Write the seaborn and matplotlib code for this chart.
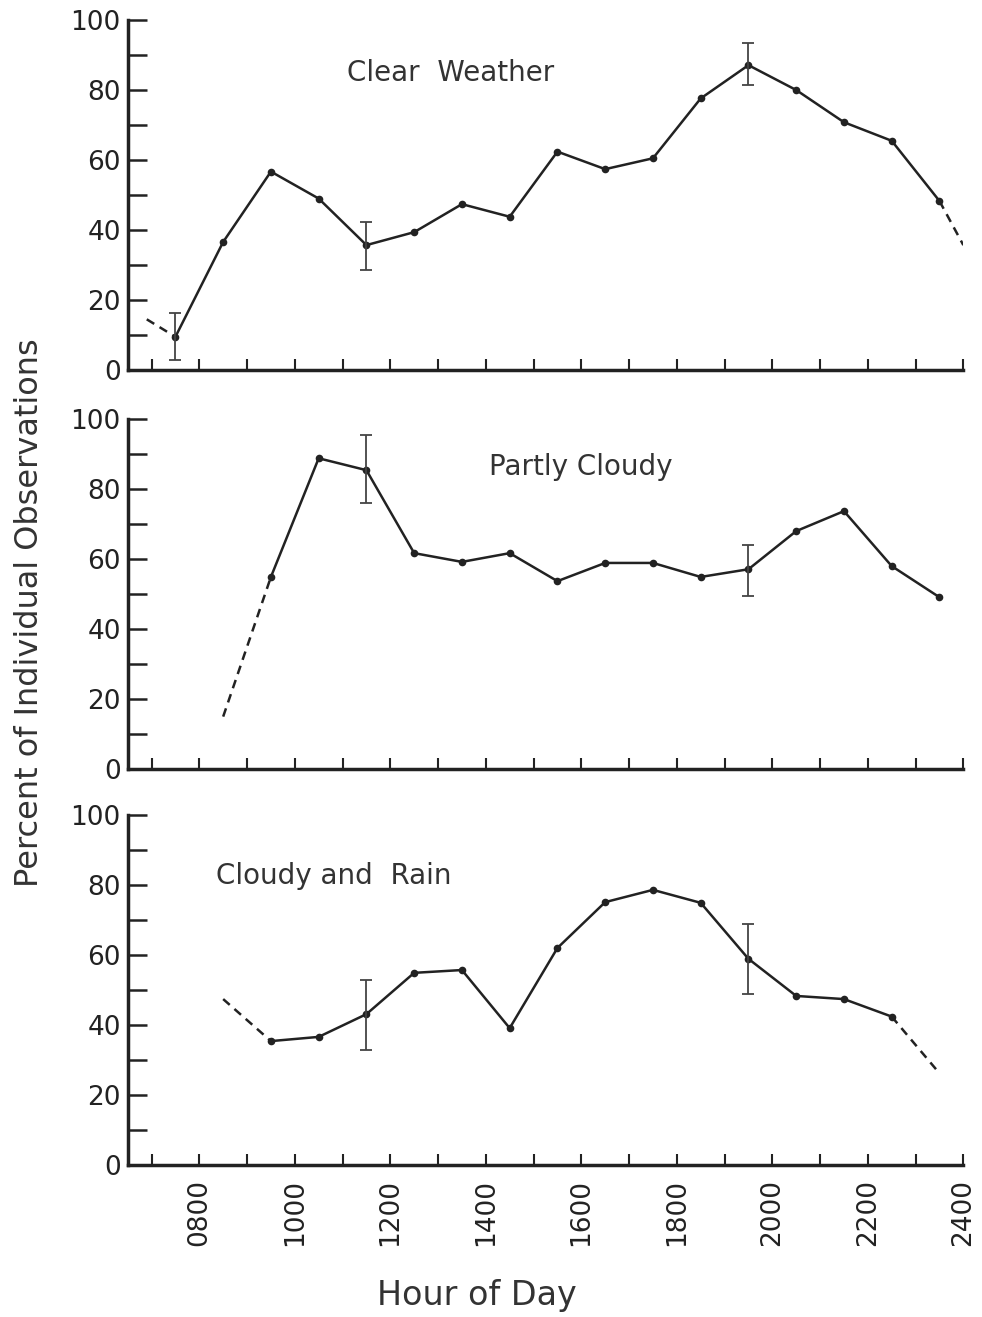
import numpy as np
import pandas as pd
import seaborn as sns
import matplotlib.pyplot as plt

# horas (meio da hora) em que cada ponto foi observado
hours = [7.5, 8.5, 9.5, 10.5, 11.5, 12.5, 13.5, 14.5, 15.5, 16.5,
         17.5, 18.5, 19.5, 20.5, 21.5, 22.5, 23.5]

nan = np.nan
clear = [9.5, 36.6, 56.7, 49.0, 35.7, 39.4, 47.4, 43.8, 62.4, 57.4,
         60.5, 77.6, 87.1, 80.0, 70.8, 65.5, 48.3]
partly = [nan, nan, 54.9, 88.8, 85.4, 61.7, 59.2, 61.7, 53.7, 58.9,
          58.9, 54.9, 57.1, 68.0, 73.7, 58.0, 49.1]
cloudy = [nan, nan, 35.4, 36.6, 43.1, 54.9, 55.7, 39.1, 62.0, 75.1,
          78.6, 74.9, 58.9, 48.3, 47.4, 42.4, nan]

# trechos tracejados (extrapolacao)
clear_dash_x = [[6.9, 7.5], [23.5, 24.0]]
clear_dash_y = [[14.5, 9.5], [48.3, 35.7]]
partly_dash_x = [[8.5, 9.5]]
partly_dash_y = [[15.0, 54.9]]
cloudy_dash_x = [[8.5, 9.5], [22.5, 23.5]]
cloudy_dash_y = [[47.4, 35.4], [42.4, 26.2]]

# barras de erro: hora, limite inferior, limite superior
clear_err_x = [7.5, 11.5, 19.5]
clear_err_lo = [2.9, 28.6, 81.4]
clear_err_hi = [16.3, 42.3, 93.4]
partly_err_x = [11.5, 19.5]
partly_err_lo = [76.0, 49.4]
partly_err_hi = [95.4, 64.0]
cloudy_err_x = [11.5, 19.5]
cloudy_err_lo = [32.9, 48.9]
cloudy_err_hi = [52.9, 68.9]

titles = ["Clear  Weather", "Partly Cloudy", "Cloudy and  Rain"]
title_pos = [(13.27, 85), (15.98, 86.3), (10.82, 82.6)]

tick_hours = [8, 10, 12, 14, 16, 18, 20, 22, 24]
tick_labels = ["0800", "1000", "1200", "1400", "1600", "1800", "2000", "2200", "2400"]

sns.set_theme(style="ticks")
plt.rcParams["font.family"] = ["DejaVu Sans"]
ink = "#222222"
txt = "#333333"

fig = plt.figure(figsize=(9.82, 13.17), dpi=100)
boxes = [[0.130, 0.719, 0.851, 0.2658],
         [0.130, 0.416, 0.851, 0.2658],
         [0.130, 0.1154, 0.851, 0.2658]]

panels = [
    (clear, clear_dash_x, clear_dash_y, clear_err_x, clear_err_lo, clear_err_hi),
    (partly, partly_dash_x, partly_dash_y, partly_err_x, partly_err_lo, partly_err_hi),
    (cloudy, cloudy_dash_x, cloudy_dash_y, cloudy_err_x, cloudy_err_lo, cloudy_err_hi),
]

for i, (vals, dx, dy, ex, elo, ehi) in enumerate(panels):
    ax = fig.add_axes(boxes[i])
    df = pd.DataFrame({"hour": hours, "pct": vals}).dropna()
    sns.lineplot(data=df, x="hour", y="pct", ax=ax, color=ink, linewidth=1.8,
                 marker="o", markersize=5.5, markeredgewidth=0)
    for xs, ys in zip(dx, dy):
        sns.lineplot(x=xs, y=ys, ax=ax, color=ink, linewidth=1.8,
                     linestyle=(0, (3.5, 2.5)))
    ex = np.array(ex)
    mid = (np.array(elo) + np.array(ehi)) / 2
    half = (np.array(ehi) - np.array(elo)) / 2
    ax.errorbar(ex, mid, yerr=half, fmt="none", ecolor="#444444",
                elinewidth=1.3, capsize=4, capthick=1.3)

    ax.text(title_pos[i][0], title_pos[i][1], titles[i], ha="center", va="center",
            fontsize=20, color=txt)

    ax.set_xlim(6.5, 24)
    ax.set_ylim(0, 100)
    ax.set_xticks(range(7, 25))
    ax.set_yticks([0, 20, 40, 60, 80, 100])
    ax.set_yticks([10, 30, 50, 70, 90], minor=True)
    ax.tick_params(axis="y", direction="in", length=14, width=1.8,
                   labelsize=19, colors=ink, pad=5)
    ax.tick_params(axis="y", which="minor", direction="in", length=14, width=1.8,
                   colors=ink)
    ax.tick_params(axis="x", direction="in", length=8, width=1.5, colors=ink)
    ax.set_xlabel("")
    ax.set_ylabel("")
    for s in ["top", "right"]:
        ax.spines[s].set_visible(False)
    for s in ["left", "bottom"]:
        ax.spines[s].set_linewidth(2.5)
        ax.spines[s].set_color(ink)

    if i < 2:
        ax.set_xticklabels([])
    else:
        ax.set_xticks(tick_hours)
        ax.set_xticks([h for h in range(7, 25) if h % 2 == 1], minor=True)
        ax.set_xticklabels(tick_labels, rotation=90, fontsize=19, color=ink)
        ax.tick_params(axis="x", which="minor", direction="in", length=8,
                       width=1.5, colors=ink)
        ax.tick_params(axis="x", pad=10)

fig.text(0.486, 0.0167, "Hour of Day", ha="center", va="center",
         fontsize=24, color=txt)
fig.text(0.030, 0.535, "Percent of Individual Observations", rotation=90,
         ha="center", va="center", fontsize=23, color=txt)

fig.savefig("out.png", dpi=100, facecolor="white")
